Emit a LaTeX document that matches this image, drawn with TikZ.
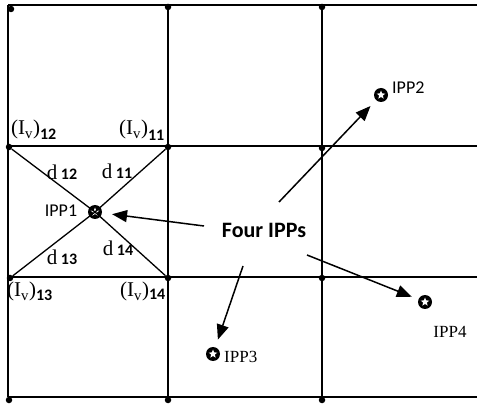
\documentclass[tikz,border=0pt]{standalone}
\usepackage{fontspec}
\setmainfont{Liberation Serif}
\setsansfont{Carlito}
\usetikzlibrary{arrows.meta,shapes.geometric}
\tikzset{
 gridline/.style={line width=1.5pt},
 diag/.style={line width=1.3pt},
 dotn/.style={circle,fill=black,inner sep=0pt,minimum size=6.5pt},
 ipp/.style={circle,fill=black,inner sep=0pt,minimum size=14pt},
 starw/.style={star,star points=5,star point ratio=2.3,fill=white,inner sep=0pt,minimum size=9pt},
 arr/.style={line width=1.5pt,-{Triangle[length=15pt,width=12pt]}},
 lbl/.style={font=\sffamily\fontsize{18}{18}\selectfont,inner sep=0pt},
 lbls/.style={font=\fontsize{17}{17}\selectfont,inner sep=0pt},
 ivl/.style={font=\fontsize{21}{21}\selectfont,inner sep=0pt,anchor=base west},
 dl/.style={font=\fontsize{21}{21}\selectfont,inner sep=0pt},
 big/.style={font=\sffamily\bfseries\fontsize{22}{22}\selectfont,inner sep=0pt},
}
\newcommand{\bsub}[1]{{\sffamily\bfseries\fontsize{16}{16}\selectfont #1}}
\begin{document}
\begin{tikzpicture}[x=1pt,y=-1pt]
\useasboundingbox (0,0) rectangle (477,406);
% grid coordinates
\coordinate (a0) at (8,5);   \coordinate (b0) at (168,5);   \coordinate (c0) at (322,5);   \coordinate (r0) at (477,5);
\coordinate (a1) at (8,146); \coordinate (b1) at (168,146); \coordinate (c1) at (322,146); \coordinate (r1) at (477,146);
\coordinate (a2) at (8,277); \coordinate (b2) at (168,277); \coordinate (c2) at (322,277); \coordinate (r2) at (477,277);
\coordinate (a3) at (8,397); \coordinate (b3) at (168,397); \coordinate (c3) at (322,397); \coordinate (r3) at (477,397);
% grid lines
\draw[gridline] (a0) -- (r0);
\draw[gridline] (a1) -- (r1);
\draw[gridline] (a2) -- (r2);
\draw[gridline] (a3) -- (r3);
\draw[gridline] (a0) -- (a3);
\draw[gridline] (b0) -- (b3);
\draw[gridline] (c0) -- (c3);
% dots
\node[dotn] (d0) at (11,9) {};
\node[dotn] (d1) at (168,7) {};
\node[dotn] (d2) at (322,7) {};
\node[dotn] (d3) at (9,147) {};
\node[dotn] (d4) at (168,147) {};
\node[dotn] (d5) at (322,148) {};
\node[dotn] (d6) at (10,278) {};
\node[dotn] (d7) at (168,278) {};
\node[dotn] (d8) at (322,278) {};
\node[dotn] (d9) at (9,400) {};
\node[dotn] (d10) at (168,400) {};
\node[dotn] (d11) at (322,400) {};
% IPP markers
\node[ipp] (p1) at (95,212) {};
\node[starw] at (p1) {};
\draw[diag] (d3) -- (p1.center) -- (d7);
\draw[diag] (d6) -- (p1.center) -- (d4);
\node[ipp] (p2) at (381,95) {};
\node[starw] at (p2) {};
\node[ipp] (p3) at (213,354) {};
\node[starw] at (p3) {};
\node[ipp] (p4) at (425,302) {};
\node[starw] at (p4) {};
% IPP labels
\node[lbl] (l1) at (61,211) {IPP1};
\node[lbl,anchor=west] (l2) at (392,88) {IPP2};
\node[lbls,anchor=west] (l3) at (224,357) {IPP3};
\node[lbls] (l4) at (450,332) {IPP4};
% intensity labels
\node[ivl] (i12) at (11,135) {(I\textsubscript{v})\raisebox{-5pt}{\bsub{12}}};
\node[ivl] (i11) at (119,135) {(I\textsubscript{v})\raisebox{-6pt}{\bsub{11}}};
\node[ivl] (i13) at (7,297) {(I\textsubscript{v})\raisebox{-4pt}{\bsub{13}}};
\node[ivl] (i14) at (120,297) {(I\textsubscript{v})\raisebox{-3pt}{\bsub{14}}};
% distance labels
\node[dl] (e12) at (62,172) {d\,\bsub{12}};
\node[dl] (e11) at (117,171) {d\,\bsub{11}};
\node[dl] (e13) at (62,257) {d\,\bsub{13}};
\node[dl] (e14) at (118,248) {d\,\bsub{14}};
% central text and arrows
\node[big] (four) at (264,230) {Four IPPs};
\coordinate (s1) at (204,226);
\coordinate (s2) at (279,202);
\coordinate (s3) at (243,266);
\coordinate (s4) at (307,255);
\draw[arr,shorten >=10pt] (s1) -- (p1);
\draw[arr,shorten >=8pt] (s2) -- (p2);
\draw[arr,shorten >=8pt] (s3) -- (p3);
\draw[arr,shorten >=7pt] (s4) -- (p4);
\end{tikzpicture}
\end{document}
